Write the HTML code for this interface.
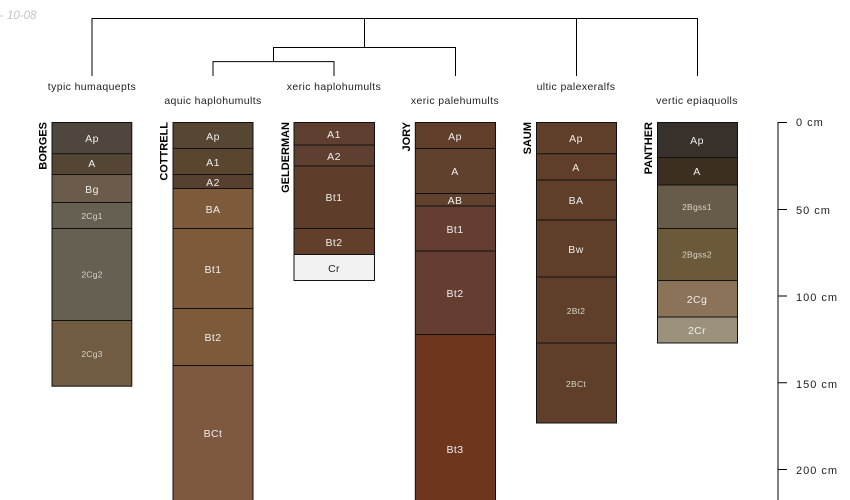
<!DOCTYPE html>
<html><head><meta charset="utf-8"><style>
html,body{margin:0;padding:0;background:#fff;width:850px;height:500px;overflow:hidden}
svg{display:block;font-family:"Liberation Sans",sans-serif}
.t{font-size:10.5px;fill:#222;text-anchor:middle;letter-spacing:.38px}
.h{font-size:10.5px;fill:#eee;text-anchor:middle;letter-spacing:.4px}
.s{font-size:8.5px;fill:#d8d4cc;text-anchor:middle;letter-spacing:.25px}
.n{font-size:11px;font-weight:bold;fill:#000;text-anchor:end}
.b{stroke:#111;stroke-width:1;fill:none}
.o{fill:none;stroke:#111;stroke-width:1}
.d{fill:none;stroke:#000;stroke-width:1}
</style></head><body>
<svg width="850" height="500" viewBox="0 0 850 500" xmlns="http://www.w3.org/2000/svg">
<text x="-0.5" y="19" font-size="11.5" font-style="italic" fill="#c4c4c4">-</text>
<text x="7" y="19" font-size="11.5" font-style="italic" fill="#c4c4c4">10-08</text>
<path class="d" d="M92 76V18.5H697.5V76M364.5 18.5V47.5M576.5 18.5V76M273.5 61.5V47.5H455.5V76M213 76V61.6H334V76"/>
<text class="t" x="92" y="90">typic humaquepts</text>
<text class="t" x="213" y="104">aquic haplohumults</text>
<text class="t" x="334" y="90">xeric haplohumults</text>
<text class="t" x="455" y="104">xeric palehumults</text>
<text class="t" x="576" y="90">ultic palexeralfs</text>
<text class="t" x="697" y="104">vertic epiaquolls</text>

<text class="n" transform="translate(46.5,122) rotate(-90)">BORGES</text>
<text class="n" transform="translate(167.5,122) rotate(-90)">COTTRELL</text>
<text class="n" transform="translate(289,122) rotate(-90)">GELDERMAN</text>
<text class="n" transform="translate(410,122) rotate(-90)">JORY</text>
<text class="n" transform="translate(531,122) rotate(-90)">SAUM</text>
<text class="n" transform="translate(652,122) rotate(-90)">PANTHER</text>

<!-- BORGES -->
<rect x="52" y="122" width="79.8" height="32" fill="#4f473d"/>
<rect x="52" y="154" width="79.8" height="21" fill="#544534"/>
<rect x="52" y="175" width="79.8" height="28" fill="#6a5b4a"/>
<rect x="52" y="203" width="79.8" height="26" fill="#666052"/>
<rect x="52" y="229" width="79.8" height="92" fill="#666052"/>
<rect x="52" y="321" width="79.8" height="65" fill="#715b41"/>
<path class="b" d="M52 153.7H131.8M52 174.5H131.8M52 202.5H131.8M52 228.5H131.8M52 320.5H131.8"/>
<rect class="o" x="52" y="122.5" width="79.8" height="263.7"/>
<text class="h" x="92" y="142">Ap</text><text class="h" x="92" y="167">A</text><text class="h" x="92" y="193">Bg</text>
<text class="s" x="92" y="219">2Cg1</text><text class="s" x="92" y="277.5">2Cg2</text><text class="s" x="92" y="357">2Cg3</text>

<!-- COTTRELL -->
<rect x="173" y="122" width="80" height="27" fill="#574634"/>
<rect x="173" y="149" width="80" height="26" fill="#5a462e"/>
<rect x="173" y="175" width="80" height="14" fill="#574030"/>
<rect x="173" y="189" width="80" height="40" fill="#7c5a3a"/>
<rect x="173" y="229" width="80" height="80" fill="#7c5a3a"/>
<rect x="173" y="309" width="80" height="57" fill="#7c5a3a"/>
<rect x="173" y="366" width="80" height="134" fill="#7f5840"/>
<path class="b" d="M173 148.5H253M173 174.5H253M173 188.5H253M173 228.5H253M173 308.5H253M173 365.5H253"/>
<rect class="o" x="173" y="122.5" width="80" height="400"/>
<text class="h" x="213" y="140">Ap</text><text class="h" x="213" y="166">A1</text><text class="h" x="213" y="186">A2</text>
<text class="h" x="213" y="213">BA</text><text class="h" x="213" y="273">Bt1</text><text class="h" x="213" y="341">Bt2</text><text class="h" x="213" y="437">BCt</text>

<!-- GELDERMAN -->
<rect x="294" y="122" width="80.5" height="23" fill="#5f4030"/>
<rect x="294" y="145" width="80.5" height="21" fill="#5f4030"/>
<rect x="294" y="166" width="80.5" height="63" fill="#5e3d2a"/>
<rect x="294" y="229" width="80.5" height="26" fill="#623f2a"/>
<rect x="294" y="255" width="80.5" height="26" fill="#f2f2f2"/>
<path class="b" d="M294 145H374.5M294 166H374.5M294 228.5H374.5M294 254.5H374.5"/>
<rect class="o" x="294" y="122.5" width="80.5" height="158"/>
<text class="h" x="334" y="138">A1</text><text class="h" x="334" y="160">A2</text><text class="h" x="334" y="201">Bt1</text><text class="h" x="334" y="246">Bt2</text>
<text class="t" x="334" y="272">Cr</text>

<!-- JORY -->
<rect x="415.3" y="122" width="80.2" height="27" fill="#623f2b"/>
<rect x="415.3" y="149" width="80.2" height="45" fill="#5f412d"/>
<rect x="415.3" y="194" width="80.2" height="12" fill="#5f412d"/>
<rect x="415.3" y="206" width="80.2" height="45" fill="#653d31"/>
<rect x="415.3" y="251" width="80.2" height="83" fill="#653d31"/>
<rect x="415.3" y="334" width="80.2" height="166" fill="#6f361e"/>
<path class="b" d="M415.3 148.5H495.5M415.3 193.5H495.5M415.3 206H495.5M415.3 251H495.5M415.3 334.5H495.5"/>
<rect class="o" x="415.3" y="122.5" width="80.2" height="400"/>
<text class="h" x="455" y="140">Ap</text><text class="h" x="455" y="175">A</text><text class="h" x="455" y="204">AB</text>
<text class="h" x="455" y="233">Bt1</text><text class="h" x="455" y="297">Bt2</text><text class="h" x="455" y="453">Bt3</text>

<!-- SAUM -->
<rect x="536.5" y="122" width="80" height="301" fill="#5f3f29"/>
<path class="b" d="M536.5 153.7H616.5M536.5 180H616.5M536.5 220H616.5M536.5 277H616.5M536.5 343H616.5"/>
<rect class="o" x="536.5" y="122.5" width="80" height="300.5"/>
<text class="h" x="576" y="142">Ap</text><text class="h" x="576" y="171">A</text><text class="h" x="576" y="204">BA</text><text class="h" x="576" y="253">Bw</text>
<text class="s" x="576" y="314">2Bt2</text><text class="s" x="576" y="387">2BCt</text>

<!-- PANTHER -->
<rect x="657.5" y="122" width="80" height="36" fill="#38312b"/>
<rect x="657.5" y="158" width="80" height="27" fill="#3c2e20"/>
<rect x="657.5" y="185" width="80" height="44" fill="#675c49"/>
<rect x="657.5" y="229" width="80" height="52" fill="#6b593a"/>
<rect x="657.5" y="281" width="80" height="36" fill="#8a7358"/>
<rect x="657.5" y="317" width="80" height="26" fill="#9c917a"/>
<path class="b" d="M657.5 157.5H737.5M657.5 185H737.5M657.5 228.5H737.5M657.5 280.5H737.5M657.5 317H737.5"/>
<rect class="o" x="657.5" y="122.5" width="80" height="220.5"/>
<text class="h" x="697" y="144">Ap</text><text class="h" x="697" y="175">A</text>
<text class="s" x="697" y="210">2Bgss1</text><text class="s" x="697" y="257.5">2Bgss2</text>
<text class="h" x="697" y="303">2Cg</text><text class="h" x="697" y="334">2Cr</text>

<!-- Scale -->
<path d="M778 500V122.5H787M778 209.5H787M778 296H787M778 382.7H787M778 469.5H787" fill="none" stroke="#000" stroke-width="1"/>
<g font-size="11" fill="#222" letter-spacing="1">
<text x="796" y="126">0 cm</text>
<text x="796" y="214">50 cm</text>
<text x="796" y="301">100 cm</text>
<text x="796" y="388">150 cm</text>
<text x="796" y="474">200 cm</text>
</g>
</svg>
</body></html>
